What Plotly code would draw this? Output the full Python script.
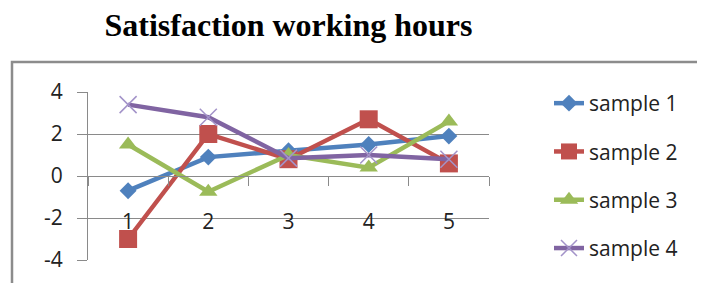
import plotly.graph_objects as go

categories = ["1", "2", "3", "4", "5"]
series_names = ["sample 1", "sample 2", "sample 3", "sample 4"]
sample1 = [-0.7, 0.9, 1.2, 1.5, 1.9]
sample2 = [-3.0, 2.0, 0.8, 2.7, 0.6]
sample3 = [1.5, -0.75, 1.0, 0.4, 2.6]
sample4 = [3.4, 2.8, 0.85, 1.0, 0.8]
y_ticks = [-4, -2, 0, 2, 4]
y_tick_labels = ["-4", "-2", "0", "2", "4"]
title_text = "Satisfaction working hours"

W, H = 705, 283
OFF = 8  # page body margin of the browser
L, R, T, B = 88 - OFF, W - (489 - OFF), 92 - OFF, H - (260 - OFF)
pw = W - L - R
ph = H - T - B

def px_x(p):
    return (p - L) / pw

def px_y(p):
    return (H - B - p) / ph

styles = [
    dict(color="#4F81BD", symbol="diamond", size=13, mline=dict(width=0)),
    dict(color="#C0504D", symbol="square", size=18, mline=dict(width=0)),
    dict(color="#9BBB59", symbol="triangle-up", size=16, mline=dict(width=0)),
    dict(color="#8064A2", symbol="x-thin", size=17, mline=dict(width=1.5, color="#A393C9")),
]

fig = go.Figure()
for i, (name, vals) in enumerate(zip(series_names, [sample1, sample2, sample3, sample4])):
    st = styles[i]
    fig.add_trace(go.Scatter(
        x=categories, y=vals, name=name, mode="lines+markers",
        line=dict(color=st["color"], width=4.5),
        marker=dict(symbol=st["symbol"], size=st["size"], color=st["color"], line=st["mline"]),
        legendgroup=name,
    ))

axis_font = dict(family="Open Sans", size=21, color="#222222")
grid = "#8a8a8a"

fig.update_layout(
    width=W, height=H,
    margin=dict(l=L, r=R, t=T, b=B, pad=0, autoexpand=False),
    paper_bgcolor="white", plot_bgcolor="white",
    title=dict(text=title_text, x=(288.5 - OFF) / W, xanchor="center", y=1 - 17 / H, yanchor="middle",
               font=dict(family="Liberation Serif", size=32, color="black", weight="bold")),
    xaxis=dict(type="category", range=[-0.5, len(categories) - 0.5], anchor="free", position=0.5,
               showline=True, linecolor=grid, linewidth=1,
               showgrid=False, zeroline=False, tickson="boundaries", ticks="outside", ticklen=9,
               tickcolor=grid, tickfont=axis_font, ticklabelstandoff=27, automargin=False),
    yaxis=dict(range=[-4, 4], tickvals=y_ticks, ticktext=y_tick_labels, showline=True, linecolor=grid, linewidth=1,
               showgrid=True, gridcolor=grid, gridwidth=1, zeroline=False, automargin=False,
               ticks="outside", ticklen=10, tickcolor=grid, tickfont=axis_font, ticklabelstandoff=10),
    legend=dict(x=px_x(541), xanchor="left", y=px_y(75), yanchor="top", font=axis_font,
                tracegroupgap=18, bgcolor="rgba(0,0,0,0)", maxheight=1),
    showlegend=True,
    shapes=[dict(type="rect", xref="paper", yref="paper", x0=px_x(12 - OFF), x1=px_x(760), y0=px_y(62 - OFF),
                 y1=px_y(320), line=dict(color="#8c8c8c", width=2.5), layer="below")],
)

fig.write_html("out.html")
